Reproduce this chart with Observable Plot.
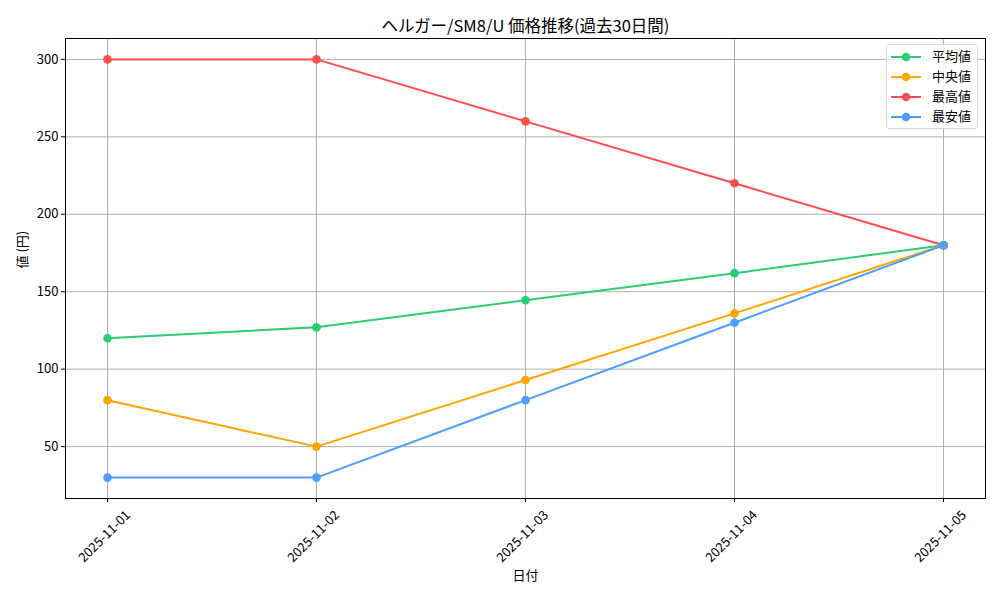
<!DOCTYPE html>
<html><head><meta charset="utf-8">
<script src="https://cdn.jsdelivr.net/npm/d3@7"></script>
<script src="https://cdn.jsdelivr.net/npm/@observablehq/plot@0.6"></script>
<style>
body{margin:0;background:#fff;}
#wrap{position:relative;width:1000px;height:600px;font-family:"Noto Sans CJK JP",sans-serif;}
#legend{position:absolute;left:886px;top:44px;width:92px;height:85px;border:1px solid #d6d6d6;border-radius:3px;background:rgba(255,255,255,0.85);box-sizing:border-box;font-size:13px;color:#000;}
.row{position:absolute;left:0;height:20px;width:100%;}
.row svg{position:absolute;left:3px;top:3px;}
.row span{position:absolute;left:45px;top:-1px;line-height:20px;}
</style></head>
<body><div id="wrap"><div id="legend"></div></div>
<script>
const dates = ["2025-11-01","2025-11-02","2025-11-03","2025-11-04","2025-11-05"];
const seriesNames = ["平均値","中央値","最高値","最安値"];
const seriesColors = ["#2ecc71","#ffa500","#ff4d4d","#4d9dff"];
const avgValues = [120, 127, 144.5, 162, 180];
const medianValues = [80, 50, 93, 136, 180];
const maxValues = [300, 300, 260, 220, 180];
const minValues = [30, 30, 80, 130, 180];
const yTicks = [50, 100, 150, 200, 250, 300];
const titleText = "ヘルガー/SM8/U 価格推移(過去30日間)";
const xLabel = "日付";
const yLabel = "値 (円)";

const valueSets = [avgValues, medianValues, maxValues, minValues];
const data = [];
seriesNames.forEach((s, i) => dates.forEach((d, j) => data.push({series: s, date: d, value: valueSets[i][j]})));

const font = '"Noto Sans CJK JP", sans-serif';
const chart = Plot.plot({
  width: 1000, height: 600,
  marginLeft: 65, marginRight: 15, marginTop: 38, marginBottom: 102,
  style: {fontFamily: font, fontSize: "13px", color: "#000", background: "#fff"},
  x: {type: "point", domain: dates, padding: 0.2, axis: null},
  y: {domain: [16.5, 313.5], axis: null},
  color: {domain: seriesNames, range: seriesColors},
  marks: [
    Plot.ruleX(dates, {x: d => d, stroke: "#b0b0b0", strokeWidth: 1}),
    Plot.ruleY(yTicks, {y: d => d, stroke: "#b0b0b0", strokeWidth: 1}),
    Plot.frame({stroke: "#000", strokeWidth: 1}),
    Plot.axisY({ticks: yTicks, tickSize: 4, tickPadding: 3, label: null, fontSize: 13, stroke: "#000"}),
    Plot.axisX({tickSize: 4, tickFormat: () => "", label: null, stroke: "#000"}),
    Plot.text(dates, {x: d => d, frameAnchor: "bottom", dy: 41, rotate: -45, text: d => d, fontSize: 13, textAnchor: "middle"}),
    Plot.line(data, {x: "date", y: "value", stroke: "series", strokeWidth: 2, z: "series"}),
    Plot.dot(data, {x: "date", y: "value", fill: "series", r: 4.3}),
    Plot.text([titleText], {frameAnchor: "top", dy: -18, fontSize: 16.5, text: d => d}),
    Plot.text([xLabel], {frameAnchor: "bottom", dy: 81, fontSize: 13, text: d => d}),
    Plot.text([yLabel], {frameAnchor: "left", dx: -43, rotate: -90, fontSize: 13, text: d => d})
  ]
});
document.getElementById("wrap").insertBefore(chart, document.getElementById("legend"));

const legend = document.getElementById("legend");
seriesNames.forEach((s, i) => {
  const row = document.createElement("div");
  row.className = "row";
  row.style.top = (2 + i * 20) + "px";
  row.innerHTML = `<svg width="32" height="14"><line x1="1" y1="7" x2="31" y2="7" stroke="${seriesColors[i]}" stroke-width="2"/><circle cx="16" cy="7" r="4.3" fill="${seriesColors[i]}"/></svg><span>${s}</span>`;
  legend.appendChild(row);
});
</script>
</body></html>
